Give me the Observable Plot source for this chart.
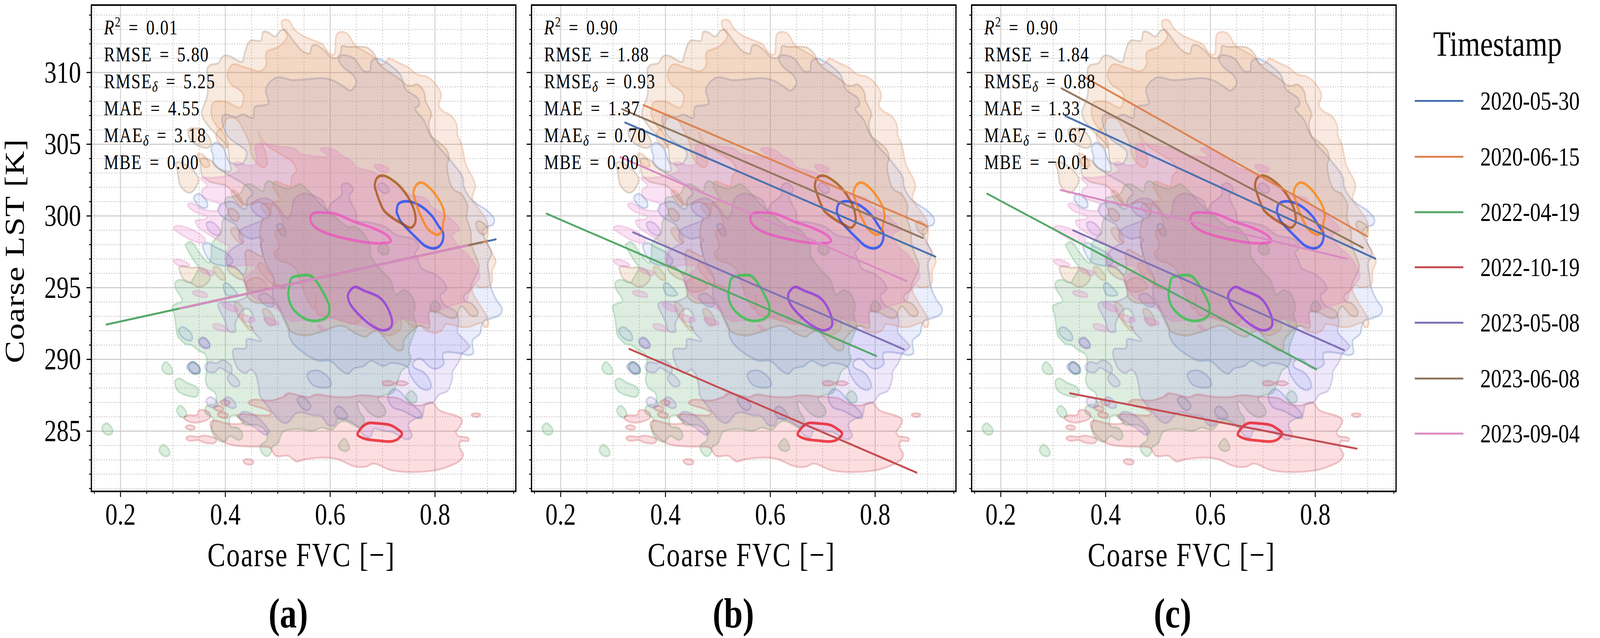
<!DOCTYPE html>
<html><head><meta charset="utf-8">
<script src="https://cdn.jsdelivr.net/npm/d3@7"></script>
<script src="https://cdn.jsdelivr.net/npm/@observablehq/plot@0.6"></script>
<style>
html,body{margin:0;padding:0;background:#fff;width:100%;height:100%;overflow:hidden}
#page{position:absolute;left:0;top:0;width:5104px;height:1634px;font-family:"Liberation Serif",serif;transform-origin:0 0}
#page>svg{position:absolute;top:0}
.lg{position:absolute;white-space:nowrap;color:#000}
</style></head><body><div id="page"></div>
<script>
const dates=["2020-05-30","2020-06-15","2022-04-19","2022-10-19","2023-05-08","2023-06-08","2023-09-04"];
const lineColors=["#4c72b0","#dd8452","#55a868","#c44e52","#8172b3","#937860","#da8bc3"];
const coreColors=["#023eff","#ff7c00","#1ac938","#e8000b","#8b2be2","#9f4800","#f14cc1"];
const fillColors=["#4466ee","#dd8452","#55a868","#ee3344","#8b5ae2","#d98a50","#e84cc0"];
const fillAlpha=[0.11,0.18,0.2,0.16,0.14,0.18,0.17];
const panelLetters=["(a)","(b)","(c)"];
const xMajor=[0.2,0.4,0.6,0.8];
const xMinor=[0.15,0.25,0.3,0.35,0.45,0.5,0.55,0.65,0.7,0.75,0.85,0.9,0.95];
const yMajor=[285,290,295,300,305,310];
const yMinor=[281,282,283,284,286,287,288,289,291,292,293,294,296,297,298,299,301,302,303,304,306,307,308,309,311,312,313,314];

const statsA=["R^2 = 0.01","RMSE = 5.80","RMSE_δ = 5.25","MAE = 4.55","MAE_δ = 3.18","MBE = 0.00"];
const statsB=["R^2 = 0.90","RMSE = 1.88","RMSE_δ = 0.93","MAE = 1.37","MAE_δ = 0.70","MBE = 0.00"];
const statsC=["R^2 = 0.90","RMSE = 1.84","RMSE_δ = 0.88","MAE = 1.33","MAE_δ = 0.67","MBE = −0.01"];

// regression line end points [x0,y0,x1,y1], same order as dates
const linesA=[[0.32,293.6,0.916,298.37],[0.36,293.93,0.899,298.24],[0.173,292.43,0.80,297.45],[0.33,293.69,0.885,298.13],[0.335,293.73,0.855,297.89],[0.315,293.57,0.89,298.17],[0.313,293.55,0.862,297.94]];
const linesB=[[0.323,306.51,0.915,297.16],[0.358,307.73,0.899,299.29],[0.173,300.16,0.802,290.24],[0.331,290.73,0.879,282.11],[0.338,298.86,0.855,290.7],[0.317,307.45,0.891,298.46],[0.314,304.1,0.86,295.46]];
const linesC=[[0.323,306.97,0.915,297.02],[0.359,309.69,0.899,298.58],[0.174,301.55,0.802,289.31],[0.332,287.64,0.879,283.78],[0.338,299,0.855,290.64],[0.316,308.89,0.891,297.78],[0.314,301.81,0.86,297.02]];

const contour20200530=[
[[.394,306.89],[.4,307.07],[.421,306.89],[.433,307.07],[.453,306.85],[.456,307.57],[.482,307.84],[.477,308.75],[.482,309.2],[.499,309.66],[.528,309.47],[.553,309.52],[.584,309.61],[.604,309.47],[.622,309.11],[.639,308.75],[.65,309.29],[.643,309.84],[.626,310.34],[.616,310.92],[.622,311.2],[.635,311.15],[.647,310.92],[.664,310.11],[.676,310.11],[.678,310.74],[.688,310.97],[.701,310.83],[.719,310.38],[.734,309.84],[.744,308.84],[.767,308.2],[.77,307.75],[.762,307.48],[.779,306.66],[.787,305.94],[.8,305.12],[.826,304.03],[.853,302.67],[.855,302.04],[.87,301.13],[.901,300.32],[.913,299.77],[.911,299.41],[.899,299.23],[.891,298.96],[.896,298.33],[.908,297.43],[.901,296.7],[.903,295.97],[.907,294.98],[.917,294.16],[.928,293.53],[.925,293.16],[.911,292.89],[.894,292.71],[.889,292.35],[.886,291.8],[.872,291.35],[.871,291.08],[.873,290.44],[.864,290.3],[.851,290.4],[.816,290.44],[.815,290.08],[.817,289.72],[.804,289.36],[.791,289.45],[.775,289.99],[.767,290.04],[.758,289.72],[.76,289.45],[.779,289.08],[.791,288.45],[.792,288.04],[.783,287.86],[.767,288.18],[.752,289],[.748,289.45],[.738,289.63],[.717,289.76],[.701,289.54],[.678,289.9],[.664,289.54],[.645,289.36],[.634,289],[.622,289.2],[.6,289.9],[.579,289.9],[.555,290.32],[.528,291.18],[.521,291.8],[.522,292.07],[.517,292.53],[.499,293.89],[.491,294.34],[.491,295.15],[.493,295.61],[.476,296.78],[.471,297.42],[.467,298.05],[.472,298.32],[.465,298.5],[.449,298.41],[.435,298.64],[.427,298.96],[.419,299.41],[.406,299.68],[.394,299.95],[.386,300.41],[.39,300.77],[.402,300.95],[.414,301],[.429,300.59],[.439,300.5],[.442,301.13],[.452,301.59],[.439,302.13],[.402,302.94],[.377,303.67],[.377,304.12],[.373,304.75],[.381,305.12],[.396,304.75],[.402,304.21],[.407,303.8],[.421,303.58],[.433,303.67],[.441,304.3],[.439,304.57],[.404,305.57],[.394,306.57]],
[[.34,301.31],[.348,301.54],[.363,301.13],[.366,300.68],[.359,300.54],[.345,300.86]],
[[.357,297.96],[.365,298.14],[.379,297.87],[.402,297.42],[.414,296.88],[.41,296.6],[.39,296.56],[.373,296.78],[.361,297.42]],
[[.498,299.32],[.505,299.46],[.515,298.96],[.514,298.64],[.507,298.69],[.499,299.14]],
[[.397,295.25],[.402,295.34],[.414,294.97],[.423,294.52],[.416,294.43],[.402,294.52],[.397,294.88]],
[[.464,294.43],[.476,294.61],[.492,294.07],[.491,293.7],[.48,293.7],[.466,294.16]],
[[.311,292.07],[.32,292.25],[.336,291.71],[.336,291.35],[.326,291.35],[.314,291.71]],
[[.556,288.91],[.563,289.18],[.581,289.18],[.6,288.55],[.601,288.14],[.581,288.05],[.565,288.28]],
[[.329,289.55],[.338,289.82],[.35,289.46],[.351,289.14],[.342,289],[.333,289.23]],
[[.537,287.19],[.544,287.41],[.555,287.19],[.563,286.73],[.557,286.46],[.547,286.6]],
[[.608,286.42],[.615,286.73],[.627,286.46],[.633,286],[.624,285.83],[.613,286]],
[[.711,287.55],[.72,287.91],[.731,287.82],[.749,287.1],[.773,286.28],[.775,285.92],[.763,285.96],[.739,286.42],[.72,286.64],[.711,287.19]]
];
const contour20200615=[
[[.508,313.6],[.52,313.65],[.532,313],[.548,312.56],[.571,312.2],[.584,312],[.6,311.29],[.608,311.29],[.612,312.65],[.62,312.83],[.628,312.8],[.636,312.6],[.641,312.28],[.649,311.83],[.666,311.47],[.684,311.06],[.696,310.56],[.707,310.74],[.711,310.97],[.732,310.65],[.75,310.34],[.765,309.88],[.785,309.7],[.802,309.16],[.812,308.39],[.807,307.75],[.814,307.34],[.831,306.98],[.842,306.3],[.843,305.67],[.851,304.94],[.859,303.58],[.874,302.49],[.877,302.04],[.871,301.22],[.878,300.77],[.899,299.6],[.901,298.7],[.899,298.2],[.911,297.3],[.916,296.8],[.909,296.16],[.909,295.43],[.905,295.16],[.888,295.02],[.874,295.16],[.871,294.8],[.882,294],[.901,292.8],[.901,292.35],[.894,292.26],[.89,292.53],[.864,292.26],[.851,292.26],[.828,292.44],[.82,292.44],[.812,292],[.8,291.85],[.784,292],[.771,292.35],[.758,292.26],[.744,292.7],[.736,292.9],[.735,292.17],[.725,291.85],[.711,291.67],[.699,291.8],[.684,292.35],[.666,293.07],[.659,292.8],[.649,292.48],[.622,292.67],[.595,293],[.575,293.2],[.573,294.5],[.569,293.5],[.556,294.2],[.546,295.15],[.534,296.3],[.519,296.7],[.499,296.97],[.493,297.4],[.503,297.87],[.495,298.87],[.51,299.23],[.497,300.6],[.472,300.86],[.468,300.6],[.484,300.05],[.49,300.9],[.505,301.1],[.499,301.5],[.491,302.2],[.495,302.4],[.511,302.2],[.524,302.1],[.527,302.76],[.535,303.1],[.53,303.67],[.501,304.4],[.476,305.03],[.463,305.84],[.476,304.48],[.48,303.67],[.474,303.4],[.46,303.67],[.449,304.4],[.447,304.94],[.433,306.1],[.421,306.75],[.404,306.8],[.394,306.1],[.39,306.03],[.377,306.66],[.373,307.2],[.377,307.89],[.4,307.98],[.429,307.57],[.434,308.48],[.408,309.3],[.404,309.93],[.414,310.56],[.439,310.34],[.468,310.11],[.478,310.56],[.478,311.38],[.503,311.83],[.518,312.56],[.508,313.2]],
[[.39,306.03],[.383,305.75],[.384,305.3],[.402,304.75],[.406,304.94],[.398,305.66]],
[[.347,304.3],[.356,304.3],[.367,303.85],[.37,303.5],[.361,303.4],[.352,303.77]],
[[.412,301.76],[.418,301.76],[.428,301.3],[.434,300.85],[.43,300.67],[.42,301.03],[.412,301.5]],
[[.412,299.14],[.421,299.14],[.429,298.78],[.435,298.23],[.429,298.1],[.421,298.32],[.411,298.87]],
[[.377,296.42],[.386,296.42],[.398,295.88],[.4,295.56],[.392,295.56],[.381,295.97]],
[[.441,295.4],[.459,295.7],[.473,295.5],[.48,295],[.455,294.7],[.443,294.9]],
[[.463,296.7],[.47,296.7],[.484,296.06],[.493,295.6],[.495,295.3],[.515,295],[.509,294.9],[.484,295.4],[.468,296.06],[.462,296.4]],
[[.418,294],[.429,293.8],[.435,293.4],[.433,292.9],[.443,292.35],[.453,292.2],[.449,292],[.435,292.5],[.42,293.4]],
[[.472,293.5],[.48,293.5],[.493,292.9],[.495,292.5],[.484,292.35],[.474,293]]
];
const contour20220419=[
[[.324,297.96],[.332,298.19],[.34,298.01],[.351,297.42],[.369,296.74],[.373,297.24],[.374,298.05],[.381,298.41],[.392,298.87],[.394,299.59],[.402,300.05],[.406,300.23],[.399,300.95],[.402,301.27],[.416,301.36],[.429,301.59],[.437,302.13],[.447,302.22],[.464,301.86],[.472,301.72],[.476,302.22],[.483,302.45],[.493,302.26],[.521,301.9],[.542,302.22],[.552,301.99],[.581,300.86],[.594,300.42],[.634,299.24],[.645,299.24],[.659,298.97],[.676,297.97],[.677,297.24],[.701,296.07],[.715,295.52],[.723,294.62],[.727,294.52],[.74,294.84],[.754,294.52],[.762,293.71],[.759,293.07],[.765,292.35],[.758,291.62],[.75,290.63],[.754,290.08],[.75,289.63],[.736,289.18],[.733,288.91],[.723,287.91],[.72,287.69],[.693,287.37],[.692,287.19],[.705,286.55],[.705,286.19],[.693,285.96],[.675,286.28],[.656,287.05],[.652,287.01],[.656,286.37],[.664,285.92],[.664,285.46],[.656,285.28],[.648,285.37],[.629,285.69],[.619,285.64],[.603,285.1],[.584,285.24],[.565,285.01],[.541,285.15],[.509,284.92],[.501,284.19],[.488,283.83],[.488,283.56],[.479,283.24],[.468,283.6],[.467,284.01],[.479,284.37],[.477,285],[.461,285.42],[.437,285.46],[.42,286.1],[.409,285.96],[.409,285.37],[.426,285.19],[.433,284.65],[.426,284.37],[.409,284.65],[.399,284.28],[.391,284.28],[.378,284.65],[.373,285.28],[.377,285.83],[.362,286.28],[.362,286.64],[.368,286.82],[.381,286.91],[.381,287.64],[.368,288],[.362,288.55],[.364,289.09],[.363,290.27],[.348,290.64],[.335,291],[.323,291.09],[.313,291.45],[.309,291.62],[.303,293.07],[.299,293.7],[.307,293.89],[.318,294.07],[.305,294.97],[.304,295.34],[.314,295.56],[.334,295.34],[.338,295.61],[.349,296.42],[.342,296.78],[.326,297.78]],
[[.279,289.46],[.286,289.82],[.298,289.37],[.299,289.05],[.292,288.96],[.281,289.18]],
[[.304,288.46],[.311,288.68],[.327,288.37],[.344,288.09],[.349,287.82],[.345,287.41],[.335,287.41],[.309,287.82]],
[[.307,286.46],[.314,286.78],[.325,286.37],[.325,286.05],[.317,285.96],[.31,286.19]],
[[.165,285.28],[.173,285.55],[.184,285.19],[.184,284.87],[.176,284.74],[.167,284.96]],
[[.274,283.74],[.281,284.06],[.293,283.65],[.293,283.33],[.285,283.24],[.276,283.47]],
[[.33,289.5],[.339,289.82],[.351,289.46],[.352,289.09],[.343,288.96],[.333,289.23]],
[[.617,284.1],[.627,284.46],[.635,284.1],[.636,283.74],[.627,283.6],[.617,283.83]],
[[.745,287.46],[.755,287.82],[.765,287.41],[.764,287.05],[.755,287],[.748,287.19]],
[[.691,297.74],[.701,298.11],[.711,297.79],[.711,297.43],[.702,297.29],[.693,297.52]],
[[.791,293.71],[.8,294.07],[.81,293.71],[.809,293.44],[.8,293.3],[.792,293.44]]
];
const contour20221019=[
[[.513,287.5],[.52,287.64],[.549,287.42],[.56,287.37],[.573,287.55],[.603,287.41],[.635,287.37],[.659,287.5],[.691,287.41],[.712,287.37],[.731,287.28],[.749,286.92],[.771,286.78],[.795,287],[.808,286.46],[.845,286],[.852,285.74],[.845,285.19],[.84,284.96],[.845,284.65],[.855,284.6],[.864,284.51],[.864,284.33],[.848,284.28],[.847,283.83],[.854,283.38],[.848,282.97],[.821,282.47],[.795,282.24],[.747,282.15],[.715,282.29],[.683,282.74],[.667,282.51],[.645,282.56],[.613,283.06],[.581,283.15],[.549,283.01],[.536,282.88],[.52,283.28],[.496,283.28],[.485,283.83],[.448,283.92],[.416,284.01],[.4,284.19],[.379,284.83],[.371,285.55],[.377,285.74],[.407,285.51],[.436,285.6],[.426,285.92],[.422,286.1],[.432,286.19],[.437,286.19],[.485,286.14],[.487,286.28],[.477,286.51],[.445,286.91],[.444,287],[.453,287.19],[.488,287.14],[.517,287.5]],
[[.321,285.92],[.327,286.1],[.346,286.14],[.349,286.42],[.36,286.46],[.371,286.19],[.37,285.92],[.346,285.6],[.329,285.69]],
[[.324,285.28],[.331,285.42],[.342,285.28],[.341,285.15],[.331,285.1]],
[[.325,284.51],[.331,284.65],[.348,284.6],[.36,284.69],[.383,284.42],[.38,284.19],[.362,284.19],[.348,284.37],[.331,284.33]],
[[.377,286.64],[.387,286.78],[.396,286.6],[.395,286.42],[.385,286.42]],
[[.385,286.19],[.393,286.32],[.405,286.14],[.404,285.96],[.391,285.96]],
[[.39,287.05],[.399,287.19],[.409,287.01],[.405,286.82],[.395,286.84]],
[[.434,282.92],[.442,283.06],[.454,282.88],[.451,282.7],[.44,282.7]],
[[.7,288.41],[.712,288.5],[.723,288.32],[.715,288.19],[.701,288.23]],
[[.725,288.37],[.737,288.5],[.748,288.32],[.741,288.19],[.729,288.23]],
[[.869,286.14],[.877,286.25],[.887,286.14],[.88,285.98]]
];
const contour20230508=[
[[.808,287.54],[.824,287.81],[.833,288.72],[.833,289.08],[.845,289.81],[.851,290.35],[.864,290.8],[.866,290.9],[.849,291.62],[.843,291.89],[.845,292.8],[.839,293.35],[.818,293.8],[.81,294.43],[.822,294.89],[.816,295.43],[.798,295.97],[.775,296.34],[.767,296.97],[.762,297.43],[.769,297.79],[.762,298.33],[.725,298.69],[.705,299.24],[.672,299.56],[.651,299.69],[.65,300.15],[.636,301.41],[.644,301.78],[.634,302.28],[.622,302.14],[.622,301.5],[.602,300.87],[.594,300.42],[.586,301.05],[.546,301.55],[.53,301.05],[.526,300.24],[.518,299.87],[.501,300.59],[.48,301.22],[.453,300.95],[.449,300.59],[.458,300.14],[.472,299.77],[.464,299.59],[.439,299.23],[.427,298.96],[.427,298.41],[.433,298.14],[.419,297.87],[.406,297.42],[.403,296.6],[.421,296.33],[.433,295.88],[.439,295.15],[.443,294.52],[.423,294.07],[.39,293.98],[.386,293.8],[.4,292.62],[.406,291.98],[.419,291.94],[.419,292.48],[.433,293.43],[.443,293.52],[.453,292.98],[.446,292.8],[.453,291.98],[.468,291.3],[.441,291.4],[.439,290.81],[.416,290.72],[.414,290.44],[.418,289.82],[.424,289.36],[.438,289.05],[.449,289.3],[.457,289],[.464,288],[.465,287.55],[.485,286.55],[.501,285.83],[.515,285.55],[.523,285.73],[.533,286.19],[.544,286.32],[.563,286.14],[.584,286],[.595,285.46],[.604,285.37],[.611,285.55],[.613,285.83],[.635,285.74],[.653,285.28],[.661,284.83],[.675,284.56],[.68,284.83],[.683,285.15],[.704,285.01],[.72,284.92],[.736,284.56],[.747,284.42],[.756,284.65],[.749,285.46],[.76,285.83],[.776,286.1],[.781,286.82],[.796,287]],
[[.69,302.04],[.699,302.31],[.711,301.95],[.712,301.68],[.703,301.59],[.693,301.86]],
[[.364,287.19],[.372,287.37],[.383,287.1],[.386,286.82],[.377,286.64],[.366,286.82]],
[[.397,287.19],[.405,287.37],[.418,287.01],[.42,286.69],[.412,286.6],[.4,286.87]],
[[.404,288.73],[.41,289],[.426,288.5],[.427,288.23],[.418,288.09],[.408,288.37]],
[[.361,289.55],[.37,289.82],[.383,289.73],[.395,289.95],[.411,289.55],[.412,289.09],[.406,289.09],[.389,289.41],[.379,289.09],[.364,289.23]],
[[.349,291.36],[.358,291.54],[.369,291.18],[.37,290.95],[.362,290.77],[.351,291.09]],
[[.326,289.5],[.335,289.82],[.35,289.46],[.35,289.14],[.34,289],[.33,289.23]],
[[.427,286],[.43,286.27],[.437,286.35],[.456,286.1],[.477,285.37],[.484,284.96],[.477,284.74],[.456,285.28],[.44,285.6]],
[[.364,299.5],[.373,299.59],[.388,299.14],[.391,298.78],[.384,298.64],[.369,298.96]],
[[.35,291.26],[.359,291.49],[.37,291.08],[.37,290.81],[.361,290.81],[.352,290.99]]
];
const contour20230608=[
[[.366,310.29],[.371,310.52],[.386,310.65],[.396,311.15],[.408,311.15],[.421,310.88],[.432,310.74],[.437,311.38],[.447,312.2],[.468,312.24],[.472,312.83],[.482,312.79],[.495,312.51],[.505,312.92],[.513,312.97],[.532,312.1],[.548,311.47],[.561,311.33],[.565,311.83],[.573,311.92],[.59,311.5],[.6,311.1],[.612,311],[.62,311.38],[.622,311.83],[.633,311.79],[.649,311.79],[.67,311.74],[.684,311.29],[.691,310.74],[.701,310.34],[.726,309.7],[.738,309.38],[.746,309.11],[.754,309.07],[.767,309.16],[.779,308.66],[.782,308.02],[.793,307.12],[.788,306.48],[.793,305.58],[.808,305.12],[.824,304.49],[.826,303.94],[.823,303.58],[.828,302.4],[.835,301.86],[.851,301.5],[.862,300.68],[.86,299.95],[.868,298.97],[.87,297.97],[.88,296.97],[.884,296.43],[.87,295.25],[.868,294.89],[.855,294.43],[.857,294.07],[.87,293.89],[.882,293.25],[.878,293.03],[.868,293.07],[.851,293.71],[.845,293.44],[.841,292.98],[.828,292.89],[.808,293.25],[.79,293.34],[.788,293.07],[.79,292.35],[.788,292.17],[.771,292.35],[.746,291.62],[.74,291.26],[.739,290.72],[.729,290.63],[.715,290.99],[.701,291.62],[.69,291.99],[.676,291.8],[.668,291.58],[.651,291.76],[.622,292.35],[.581,291.9],[.552,291.67],[.523,292],[.513,292.7],[.499,293.7],[.493,293.9],[.456,293.98],[.443,294.34],[.437,295.43],[.421,295.7],[.405,296.24],[.405,296.51],[.419,296.42],[.435,295.88],[.44,296.33],[.438,297.42],[.443,297.64],[.456,297.42],[.47,297.19],[.468,297.96],[.466,298.5],[.467,299.23],[.472,299.77],[.484,299.95],[.484,300.41],[.468,300.95],[.441,300.77],[.433,300.86],[.412,301.77],[.402,302.09],[.369,302.41],[.355,302.86],[.353,303.48],[.353,303.98],[.373,303.85],[.388,303.3],[.41,303.12],[.408,303.76],[.406,304.39],[.404,304.85],[.388,305.48],[.367,306.3],[.355,307.11],[.366,308.48]],
[[.33,306.03],[.34,306.12],[.359,305.93],[.373,305.12],[.367,304.75],[.342,305.03],[.33,305.57]],
[[.305,303.67],[.313,303.76],[.34,303.12],[.349,302.49],[.336,301.67],[.326,301.67],[.313,302.21],[.309,303.12]],
[[.312,296.42],[.318,296.51],[.336,296.38],[.349,296.42],[.365,296.15],[.371,295.7],[.363,295.24],[.349,295.06],[.334,295.34],[.32,295.61]],
[[.878,299.51],[.884,299.65],[.9,299.15],[.894,298.69],[.884,298.88]],
[[.405,300.41],[.414,300.5],[.426,300.05],[.423,299.68],[.412,299.77]]
];
const contour20230904=[
[[.506,293.34],[.484,293.8],[.453,294.34],[.443,294.88],[.435,295.52],[.458,296.42],[.433,296.56],[.406,296.51],[.4,297.06],[.402,297.51],[.407,297.83],[.39,298.23],[.365,298.78],[.346,299.32],[.343,299.68],[.361,299.77],[.365,299.95],[.34,300.32],[.328,300.77],[.334,300.91],[.359,300.45],[.386,300.41],[.39,300.77],[.379,301],[.357,301.31],[.355,301.77],[.365,302.13],[.353,302.63],[.377,302.67],[.402,302.81],[.425,303.2],[.416,303.67],[.425,303.76],[.441,303.53],[.458,303.67],[.458,304.94],[.476,305.03],[.501,304.85],[.53,304.71],[.544,304.35],[.563,304.21],[.596,304.17],[.581,304.66],[.594,304.75],[.614,304.48],[.622,304.22],[.641,303.85],[.649,303.44],[.684,303.04],[.713,302.4],[.75,301.5],[.783,301.22],[.793,300.68],[.828,299.86],[.847,299.05],[.833,298.69],[.847,297.79],[.864,297.24],[.884,296.07],[.885,295.7],[.876,295.25],[.864,294.52],[.861,294.07],[.853,293.98],[.814,293.53],[.787,293.16],[.789,292.53],[.767,292.62],[.732,292.8],[.72,292.35],[.692,292.03],[.659,292.35],[.622,292.71],[.605,292.9],[.581,292.62],[.556,292.75],[.523,292.71]],
[[.301,299.14],[.307,299.32],[.33,299.14],[.35,298.78],[.362,298.32],[.358,298.14],[.34,298.23],[.317,298.69]],
[[.3,296.88],[.309,296.97],[.325,296.78],[.332,296.56],[.327,296.47],[.31,296.56]],
[[.351,296.33],[.365,296.24],[.379,296.06],[.375,295.83],[.363,295.97],[.353,296.15]],
[[.337,294.7],[.345,294.79],[.363,294.61],[.366,294.38],[.357,294.34],[.34,294.52]],
[[.394,293.89],[.402,293.93],[.419,293.66],[.424,293.39],[.416,293.34],[.398,293.61]],
[[.376,292.39],[.383,292.48],[.4,292.25],[.404,291.98],[.394,291.98],[.379,292.16]],
[[.425,293.12],[.437,293.12],[.457,292.75],[.453,292.62],[.435,292.66]],
[[.473,292.8],[.482,292.89],[.503,292.48],[.495,292.39],[.48,292.53]],
[[.684,303.49],[.694,303.58],[.712,303.26],[.709,303.08],[.694,303.13]],
[[.576,292.35],[.58,292.4],[.59,292.05],[.586,292]]
];

// innermost density level of each date
const core20200530=[[.727,300.23],[.73,300.82],[.744,301.02],[.769,300.77],[.793,300.05],[.808,299.23],[.815,298.88],[.815,298.33],[.809,297.92],[.798,297.74],[.781,297.92],[.767,298.38],[.746,299.15],[.734,299.65],[.728,300.15]];
const core20200615=[[.759,301.68],[.766,302.22],[.776,302.31],[.79,301.95],[.804,301.32],[.815,300.59],[.818,299.95],[.816,299.6],[.813,298.97],[.805,298.69],[.795,298.83],[.785,299.15],[.777,299.69],[.769,300.33],[.762,301.13]];
const core20220419=[[.522,295.07],[.526,295.66],[.542,295.84],[.562,295.84],[.572,295.52],[.586,294.71],[.598,293.71],[.596,293.07],[.582,292.75],[.562,292.71],[.542,293.07],[.526,293.71],[.52,294.52]];
const core20221019=[[.652,284.78],[.661,285.28],[.672,285.55],[.688,285.55],[.715,285.42],[.728,285.15],[.737,284.83],[.728,284.42],[.715,284.28],[.693,284.33],[.667,284.46],[.655,284.65]];
const core20230508=[[.634,294.5],[.646,295.04],[.666,294.77],[.694,294.32],[.708,293.7],[.718,292.7],[.716,292.25],[.702,292.02],[.682,292.29],[.654,293.15],[.638,293.88]];
const core20230608=[[.685,302.13],[.69,302.67],[.701,302.81],[.719,302.49],[.738,301.86],[.754,300.95],[.762,300.14],[.762,299.5],[.754,299.18],[.74,299.41],[.719,299.86],[.702,300.41],[.694,301.04],[.688,301.68]];
const core20230904=[[.562,299.78],[.566,300.15],[.586,300.24],[.61,300.15],[.646,299.6],[.682,299.15],[.71,298.6],[.716,298.24],[.698,298.1],[.67,298.15],[.642,298.33],[.61,298.6],[.582,298.97],[.566,299.42]];

const contours=[contour20200530,contour20200615,contour20220419,contour20221019,contour20230508,contour20230608,contour20230904];
const cores=[core20200530,core20200615,core20220419,core20221019,core20230508,core20230608,core20230904];

const FONT='"Liberation Serif",serif';
const frameTop=12.5,frameBottom=1258,frameWidth=1354,leftMargin=291;

function panel(i,stats,lines,isFirst){
  const marks=[];
  marks.push(Plot.ruleX(xMinor,{stroke:"#c4c4c4",strokeWidth:2.5,strokeDasharray:"3 5"}));
  marks.push(Plot.ruleY(yMinor,{stroke:"#c4c4c4",strokeWidth:2.5,strokeDasharray:"3 5"}));
  marks.push(Plot.ruleX(xMajor,{stroke:"#cfcfcf",strokeWidth:3}));
  marks.push(Plot.ruleY(yMajor,{stroke:"#cfcfcf",strokeWidth:3}));
  contours.forEach((rings,k)=>{
    const rows=rings.flatMap((r,j)=>r.map(([x,y])=>({x,y,ring:j})));
    marks.push(Plot.line(rows,{x:"x",y:"y",z:"ring",curve:"catmull-rom-closed",fill:fillColors[k],fillOpacity:fillAlpha[k],stroke:lineColors[k],strokeOpacity:0.28,strokeWidth:5}));
  });
  cores.forEach((r,k)=>{
    const rows=r.map(([x,y])=>({x,y}));
    marks.push(Plot.line(rows,{x:"x",y:"y",curve:"catmull-rom-closed",stroke:coreColors[k],strokeOpacity:0.7,strokeWidth:7}));
  });
  lines.forEach((l,k)=>{
    marks.push(Plot.line([{x:l[0],y:l[1]},{x:l[2],y:l[3]}],{x:"x",y:"y",stroke:lineColors[k],strokeWidth:5}));
  });
  marks.push(Plot.axisX({ticks:xMinor,anchor:"bottom",tickSize:7,strokeWidth:2.5,stroke:"#000",text:null,label:null}));
  marks.push(Plot.axisY({ticks:yMinor,anchor:"left",tickSize:7,strokeWidth:2.5,stroke:"#000",text:null,label:null}));
  marks.push(Plot.axisX({ticks:xMajor,anchor:"bottom",tickSize:15,tickPadding:14,strokeWidth:3,stroke:"#000",fill:"#000",fontSize:78,fontFamily:FONT,tickFormat:d=>d.toFixed(1),label:null}));
  if(isFirst) marks.push(Plot.axisY({ticks:yMajor,anchor:"left",tickSize:15,tickPadding:18,strokeWidth:3,stroke:"#000",fill:"#000",fontSize:78,fontFamily:FONT,tickFormat:d=>String(d),label:null}));
  else marks.push(Plot.axisY({ticks:yMajor,anchor:"left",tickSize:15,strokeWidth:3,stroke:"#000",text:null,label:null}));
  marks.push(Plot.frame({stroke:"#000",strokeWidth:4}));
  stats.forEach((s,n)=>{
    marks.push(Plot.text([s],{frameAnchor:"top-left",dx:40,dy:58+69*n,text:d=>d,textAnchor:"start",lineAnchor:"middle",fontSize:53,fontFamily:FONT,fill:"#000"}));
  });
  marks.push(Plot.text(["Coarse FVC [−]"],{frameAnchor:"bottom",dx:-7,dy:164,text:d=>d,lineAnchor:"middle",textAnchor:"middle",fontSize:86,fontFamily:FONT,fill:"#000"}));
  if(isFirst) marks.push(Plot.text(["Coarse LST [K]"],{frameAnchor:"left",rotate:-90,text:d=>d,lineAnchor:"middle",textAnchor:"middle",fontSize:86,fontFamily:FONT,fill:"#000"}));
  marks.push(Plot.text([panelLetters[i]],{frameAnchor:"bottom",dx:[-49,-33,-36][i],dy:314,text:d=>d,lineAnchor:"middle",textAnchor:"middle",fontSize:108,fontWeight:"bold",fontFamily:FONT,fill:"#000"}));

  const svg=Plot.plot({
    width:leftMargin+frameWidth+10,height:1634,
    marginLeft:leftMargin,marginRight:10,marginTop:frameTop,marginBottom:1634-frameBottom,
    style:{background:"transparent",overflow:"visible",fontFamily:FONT},
    x:{domain:[0.1444,0.9542],label:null,axis:null},
    y:{domain:[280.8,314.7],label:null,axis:null},
    marks
  });
  svg.querySelectorAll("text").forEach(t=>{
    const s=t.textContent;
    if(/ = /.test(s)){
      t.style.letterSpacing="2.4px";t.style.wordSpacing="8px";
      const m=s.match(/^(\w+?)([_^])(.) = (.*)$/);
      if(m){
        const [,base,kind,mod,val]=m;
        t.textContent="";
        const add=(txt,attrs)=>{const e=document.createElementNS("http://www.w3.org/2000/svg","tspan");e.textContent=txt;for(const k in attrs)e.setAttribute(k,attrs[k]);t.appendChild(e);};
        if(kind==="^"){
          add(base,{"font-style":"italic"});
          add(mod,{dy:"-20","font-size":"36"});
          add(" = "+val,{dy:"20"});
        }else{
          add(base,{});
          add(mod,{dy:"9","font-size":"38","font-style":"italic"});
          add(" = "+val,{dy:"-9"});
        }
      }
    } else if(s==="Coarse FVC [−]"){t.style.letterSpacing="3.2px";}
    else if(s==="Coarse LST [K]"){
      t.style.letterSpacing="1.6px";
      t.removeAttribute("x");t.removeAttribute("y");
      t.setAttribute("transform","translate(76,642) rotate(-90)");
    }
  });
  return svg;
}

const page=document.getElementById("page");
const lefts=[291,1695,3099];
[[statsA,linesA],[statsB,linesB],[statsC,linesC]].forEach(([s,l],i)=>{
  const svg=panel(i,s,l,i===0);
  svg.style.left=(lefts[i]-leftMargin)+"px";
  page.appendChild(svg);
});

const legendY=[258,401,543,684,826,969,1110];
const title=document.createElement("div");
title.className="lg";title.textContent="Timestamp";
title.style.cssText+="left:4567px;width:420px;text-align:center;top:62px;font-size:92px;line-height:100px";
page.appendChild(title);
dates.forEach((d,i)=>{
  const ln=document.createElement("div");
  ln.className="lg";
  ln.style.cssText+=`left:4513px;width:155px;height:5px;top:${legendY[i]-2.5}px;background:${lineColors[i]}`;
  page.appendChild(ln);
  const tx=document.createElement("div");
  tx.className="lg";tx.textContent=d;
  tx.style.cssText+=`left:4722px;top:${legendY[i]-40}px;font-size:68px;line-height:80px`;
  page.appendChild(tx);
});
// the drawing is laid out on a 5104x1634 sheet and fitted to the window that actually opens
page.style.transform=`scale(${innerWidth/5104},${innerHeight/1634})`;
</script></body></html>
